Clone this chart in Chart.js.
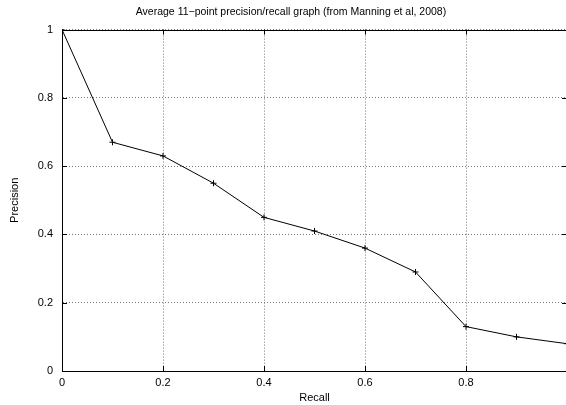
<!DOCTYPE html>
<html>
<head>
<meta charset="utf-8">
<script src="https://cdn.jsdelivr.net/npm/chart.js@4"></script>
<style>
  html, body { margin: 0; padding: 0; background: #fff; overflow: hidden; }
  #wrap { width: 582px; height: 405px; }
</style>
</head>
<body>
<div id="wrap"><canvas id="prChart"></canvas></div>
<script>
// ============================
// データ
// ============================
const recall = [0, 0.1, 0.2, 0.3, 0.4, 0.5, 0.6, 0.7, 0.8, 0.9, 1.0];
const precision = [1.0, 0.67, 0.63, 0.55, 0.45, 0.41, 0.36, 0.29, 0.13, 0.10, 0.08];

const titleText = "Average 11\u2212point precision/recall graph (from Manning et al, 2008)";
const xLabel = "Recall";
const yLabel = "Precision";

const font = { family: "'Liberation Sans', Arial, Helvetica, sans-serif", size: 11 };
const fmt = v => String(+Number(v).toFixed(1));

// 上枠と内向きの目盛り（gnuplot風）
const frameTicks = {
  id: "frameTicks",
  afterDatasetsDraw(chart) {
    const { ctx, chartArea: a, scales: { x, y } } = chart;
    const al = v => Math.round(v) + 0.5;
    ctx.save();
    ctx.strokeStyle = "#000";
    ctx.lineWidth = 1;
    ctx.beginPath();
    ctx.moveTo(a.left, al(a.top));
    ctx.lineTo(a.right, al(a.top));
    x.ticks.forEach(t => {
      const px = al(x.getPixelForValue(t.value));
      ctx.moveTo(px, a.bottom);
      ctx.lineTo(px, a.bottom - 5);
      ctx.moveTo(px, a.top);
      ctx.lineTo(px, a.top + 5);
    });
    y.ticks.forEach(t => {
      const py = al(y.getPixelForValue(t.value));
      ctx.moveTo(a.left, py);
      ctx.lineTo(a.left + 5, py);
      ctx.moveTo(a.right, py);
      ctx.lineTo(a.right - 5, py);
    });
    ctx.stroke();
    ctx.restore();
  }
};

const points = recall.map((r, i) => ({ x: r, y: precision[i] }));

new Chart(document.getElementById("prChart"), {
  type: "line",
  data: {
    datasets: [{
      data: points,
      borderColor: "#000",
      borderWidth: 1,
      pointStyle: "cross",
      pointRadius: 3,
      pointBorderColor: "#000",
      pointBorderWidth: 1,
      tension: 0
    }]
  },
  options: {
    responsive: true,
    maintainAspectRatio: false,
    animation: false,
    layout: { padding: 0 },
    plugins: {
      legend: { display: false },
      tooltip: { enabled: false },
      title: {
        display: true,
        text: titleText,
        color: "#000",
        font: { ...font, size: 10.5, weight: "normal" },
        padding: { top: 6, bottom: 11 }
      }
    },
    scales: {
      x: {
        type: "linear",
        min: 0,
        max: 1,
        ticks: {
          stepSize: 0.2,
          color: "#000",
          font,
          padding: 5,
          maxRotation: 0,
          callback: v => (v >= 1 ? "" : fmt(v))
        },
        grid: { color: "#777", drawTicks: false },
        border: { color: "#000", width: 1, dash: [1, 2] },
        title: { display: true, text: xLabel, color: "#000", font, padding: { top: 0, bottom: 0 } },
        afterFit: s => { s.height = 34; }
      },
      y: {
        min: 0,
        max: 1,
        ticks: { stepSize: 0.2, color: "#000", font, padding: 9, callback: v => fmt(v) },
        grid: { color: "#777", drawTicks: false },
        border: { color: "#000", width: 1, dash: [1, 2] },
        title: { display: true, text: yLabel, color: "#000", font, padding: { top: 8, bottom: 0 } },
        afterFit: s => { s.width = 62; }
      },
      // 右側の余白（窓の外）
      pad: {
        position: "right",
        grid: { display: false },
        ticks: { display: false },
        border: { display: false },
        afterFit: s => { s.width = 15; }
      }
    }
  },
  plugins: [frameTicks]
});
</script>
</body>
</html>
